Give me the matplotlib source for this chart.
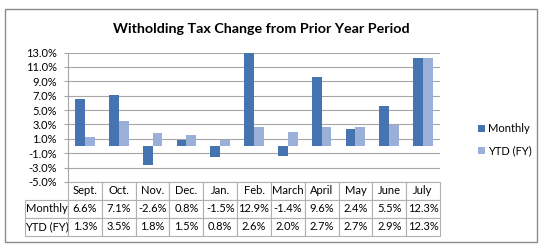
import matplotlib.pyplot as plt
import numpy as np
from matplotlib.patches import Rectangle
from matplotlib.table import Table

months = ["Sept.", "Oct.", "Nov.", "Dec.", "Jan.", "Feb.", "March", "April", "May", "June", "July"]
monthly = [6.6, 7.1, -2.6, 0.8, -1.5, 12.9, -1.4, 9.6, 2.4, 5.5, 12.3]
ytd = [1.3, 3.5, 1.8, 1.5, 0.8, 2.6, 2.0, 2.7, 2.7, 2.9, 12.3]
series_names = ["Monthly", "YTD (FY)"]
yticks = np.arange(-5, 14, 2)

plt.rcParams["font.family"] = ["Lato", "DejaVu Sans"]
dark = "#4674B0"
light = "#9AB0D8"
grid_c = "#A6A6A6"
W, H = 544, 248

fig = plt.figure(figsize=(W / 100, H / 100), dpi=100)

# outer frame
fig.patches.append(Rectangle((5 / W, 1 - 242 / H), 532 / W, 233 / H, transform=fig.transFigure,
                             fill=False, edgecolor="#8C8C8C", linewidth=1))

fig.text(261 / W, 1 - 29 / H, "Witholding Tax Change from Prior Year Period",
         ha="center", va="center", fontsize=10.3, fontweight="bold")

ax = fig.add_axes([68 / W, 1 - 182 / H, 372 / W, 129.5 / H])
x = np.arange(len(months))
bw = 0.29
b1 = ax.bar(x - bw / 2, monthly, bw, color=dark, zorder=3, label=series_names[0])
b2 = ax.bar(x + bw / 2, ytd, bw, color=light, zorder=3, label=series_names[1])
ax.set_xlim(-0.5, len(months) - 0.5)
ax.set_ylim(-5, 13)
ax.set_yticks(yticks)
ax.set_yticklabels([f"{v:.1f}%" for v in yticks], fontsize=8)
ax.set_xticks([])
ax.grid(axis="y", color=grid_c, linewidth=0.8, zorder=0)
for s in ["top", "right", "bottom"]:
    ax.spines[s].set_visible(False)
ax.spines["left"].set_color(grid_c)
ax.tick_params(axis="y", length=3, color=grid_c, pad=5)

# data table
tax = fig.add_axes([25 / W, 1 - 236 / H, 415 / W, 54 / H])
tax.axis("off")
tbl = Table(tax, bbox=[0, 0, 1, 1])
lab_w = 43 / 415
col_w = (1 - lab_w) / len(months)
rh = 1 / 3
for j, m in enumerate(months):
    tbl.add_cell(0, j + 1, col_w, rh, text=m, loc="center")
for i, (name, vals) in enumerate(zip(series_names, [monthly, ytd])):
    tbl.add_cell(i + 1, 0, lab_w, rh, text=name, loc="center")
    for j, v in enumerate(vals):
        tbl.add_cell(i + 1, j + 1, col_w, rh, text=f"{v:.1f}%", loc="center")
tbl.auto_set_font_size(False)
tbl.set_fontsize(8)
for cell in tbl.get_celld().values():
    cell.set_edgecolor("#B0B0B0")
    cell.set_linewidth(0.8)
    cell.PAD = 0.02
tax.add_table(tbl)

fig.legend(handles=[b1, b2], loc="center left", bbox_to_anchor=(468 / W, 1 - 140 / H),
           frameon=False, fontsize=8, handlelength=0.6, handleheight=0.6,
           handletextpad=0.3, labelspacing=1.0)

fig.savefig("out.png", dpi=100)
